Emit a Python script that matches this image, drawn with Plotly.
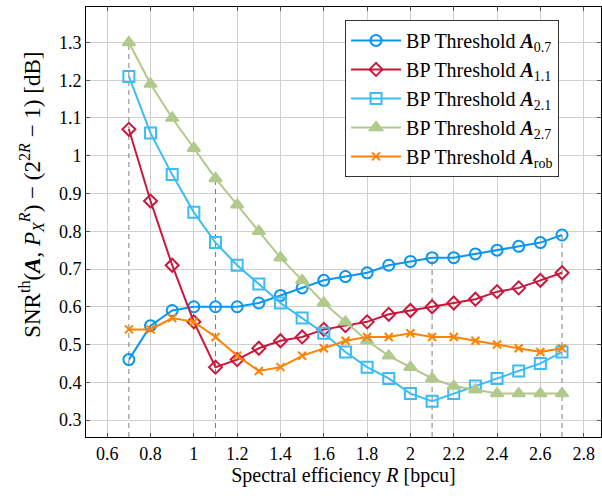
import plotly.graph_objects as go

R = [0.7, 0.8, 0.9, 1.0, 1.1, 1.2, 1.3, 1.4, 1.5, 1.6, 1.7, 1.8, 1.9, 2.0,
     2.1, 2.2, 2.3, 2.4, 2.5, 2.6, 2.7]

snr_a07 = [0.46, 0.55, 0.59, 0.60, 0.60, 0.60, 0.61, 0.63, 0.65, 0.67, 0.68,
           0.69, 0.71, 0.72, 0.73, 0.73, 0.74, 0.75, 0.76, 0.77, 0.79]
snr_a11 = [1.07, 0.88, 0.71, 0.56, 0.44, 0.46, 0.49, 0.51, 0.52, 0.54, 0.55,
           0.56, 0.58, 0.59, 0.60, 0.61, 0.62, 0.64, 0.65, 0.67, 0.69]
snr_a21 = [1.21, 1.06, 0.95, 0.85, 0.77, 0.71, 0.66, 0.61, 0.57, 0.53, 0.48,
           0.44, 0.41, 0.37, 0.35, 0.37, 0.39, 0.41, 0.43, 0.45, 0.48]
snr_a27 = [1.30, 1.19, 1.10, 1.02, 0.94, 0.87, 0.80, 0.73, 0.67, 0.61, 0.56,
           0.51, 0.47, 0.44, 0.41, 0.39, 0.38, 0.37, 0.37, 0.37, 0.37]
snr_rob = [0.54, 0.54, 0.57, 0.56, 0.52, 0.47, 0.43, 0.44, 0.47, 0.49, 0.51,
           0.52, 0.52, 0.53, 0.52, 0.52, 0.51, 0.50, 0.49, 0.48, 0.49]

series_names = [
    "BP Threshold <b><i>A</i></b><sub>0.7</sub>",
    "BP Threshold <b><i>A</i></b><sub>1.1</sub>",
    "BP Threshold <b><i>A</i></b><sub>2.1</sub>",
    "BP Threshold <b><i>A</i></b><sub>2.7</sub>",
    "BP Threshold <b><i>A</i></b><sub>rob</sub>",
]

thresholds = [0.7, 1.1, 2.1, 2.7]

x_ticks = [0.6, 0.8, 1.0, 1.2, 1.4, 1.6, 1.8, 2.0, 2.2, 2.4, 2.6, 2.8]
y_ticks = [0.3, 0.4, 0.5, 0.6, 0.7, 0.8, 0.9, 1.0, 1.1, 1.2, 1.3]

X_RANGE = [0.502, 2.88]
Y_RANGE = [0.255, 1.394]

FONT = "Liberation Serif"

all_series = [snr_a07, snr_a11, snr_a21, snr_a27, snr_rob]

fig = go.Figure()

# dashed guide lines at the design rates, up to the highest curve
for t in thresholds:
    i = R.index(t)
    top = max(s[i] for s in all_series)
    fig.add_trace(go.Scatter(
        x=[t, t], y=[Y_RANGE[0], top], mode="lines",
        line=dict(color="#7f7f7f", width=1, dash="5px,4px"),
        showlegend=False, hoverinfo="skip"))

styles = [
    dict(color="#0a96f0", symbol="circle-open", size=11),
    dict(color="#c8193c", symbol="diamond-open", size=10),
    dict(color="#3cbcf6", symbol="square-open", size=11),
    dict(color="#b2c98c", symbol="triangle-up", size=11),
    dict(color="#ff8200", symbol="x-thin-open", size=8),
]

for name, ys, st in zip(series_names, all_series, styles):
    fig.add_trace(go.Scatter(
        x=R, y=ys, name=name, mode="lines+markers",
        line=dict(color=st["color"], width=2),
        marker=dict(symbol=st["symbol"], size=st["size"], color=st["color"],
                    line=dict(color=st["color"], width=2))))

axis_common = dict(
    showline=True, linecolor="black", linewidth=1, mirror="allticks",
    ticks="inside", ticklen=4, tickcolor="#555555", tickwidth=1,
    showgrid=True, gridcolor="#cfcfcf", gridwidth=1, zeroline=False,
    tickfont=dict(family=FONT, size=18, color="black"),
)

fig.update_xaxes(range=X_RANGE, tickvals=x_ticks,
                 ticktext=[f"{v:g}" for v in x_ticks],
                 title=dict(text="Spectral efficiency <i>R</i> [bpcu]",
                            font=dict(family=FONT, size=20, color="black"),
                            standoff=2),
                 **axis_common)
fig.update_yaxes(range=Y_RANGE, tickvals=y_ticks,
                 ticktext=[f"{v:g}" for v in y_ticks],
                 **axis_common)

fig.add_annotation(
    text="SNR<sup>th</sup>(<b><i>A</i></b>, <i>P</i><sub><i>X</i></sub><sup><i>R</i></sup>) − (2<sup>2<i>R</i></sup> − 1) [dB]",
    xref="paper", yref="paper", x=-0.105, y=0.563, xanchor="center", yanchor="middle",
    textangle=-90, showarrow=False,
    font=dict(family=FONT, size=23, color="black"))

fig.update_layout(
    width=602, height=496,
    margin=dict(l=86, r=1, t=7, b=59),
    paper_bgcolor="white", plot_bgcolor="white",
    font=dict(family=FONT, size=18, color="black"),
    legend=dict(x=0.503, y=0.970, xanchor="left", yanchor="top",
                bgcolor="white", bordercolor="#333333", borderwidth=1,
                font=dict(family=FONT, size=20, color="black"),
                itemwidth=50, tracegroupgap=0),
    showlegend=True,
)

fig.write_html("out.html", config={"displayModeBar": False},
               post_script="document.body.style.margin='0';document.body.style.padding='0';")
